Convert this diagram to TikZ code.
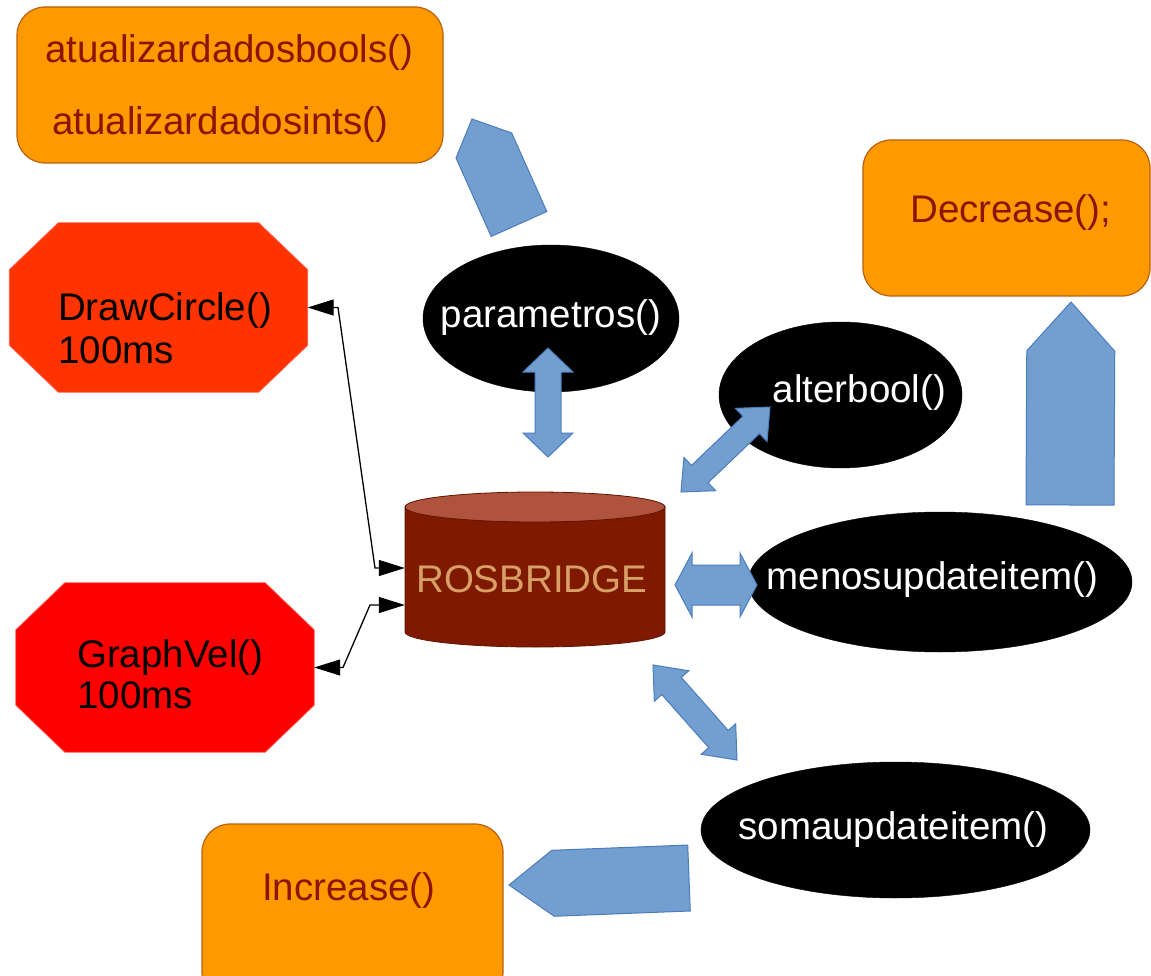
\documentclass[tikz,border=0pt]{standalone}
\usepackage{fontspec}
\setmainfont{Liberation Sans}
\usetikzlibrary{shapes.geometric,calc,arrows.meta}
\definecolor{orfill}{HTML}{FF9900}
\definecolor{ordraw}{HTML}{B8600F}
\definecolor{ortext}{HTML}{8B1500}
\definecolor{dcfill}{HTML}{FF3300}
\definecolor{gvfill}{HTML}{FF0000}
\definecolor{octdraw}{HTML}{FF5A4A}
\definecolor{bafill}{HTML}{729FCF}
\definecolor{badraw}{HTML}{4A7CBE}
\definecolor{rosbody}{HTML}{7F1A00}
\definecolor{rostop}{HTML}{B0533C}
\definecolor{rosedge}{HTML}{5E1200}
\definecolor{rostext}{HTML}{D9A066}
\newcommand{\blkdbl}[5]{%
 \draw[barrow] (#1) -- ($($(#1)!#3!(#2)$)!#4!90:(#2)$) -- ($($(#1)!#3!(#2)$)!#5!90:(#2)$)
  -- ($($(#2)!#3!(#1)$)!#5!-90:(#1)$) -- ($($(#2)!#3!(#1)$)!#4!-90:(#1)$) -- (#2)
  -- ($($(#2)!#3!(#1)$)!#4!90:(#1)$) -- ($($(#2)!#3!(#1)$)!#5!90:(#1)$)
  -- ($($(#1)!#3!(#2)$)!#5!-90:(#2)$) -- ($($(#1)!#3!(#2)$)!#4!-90:(#2)$) -- cycle;}
\newcommand{\blkpent}[4]{%
 \draw[barrow] (#1) -- ($($(#1)!#3!(#2)$)!#4!90:(#2)$) -- ($(#2)!#4!-90:(#1)$)
  -- ($(#2)!#4!90:(#1)$) -- ($($(#1)!#3!(#2)$)!#4!-90:(#2)$) -- cycle;}
% octagon drawn on a named box node: #1 node, #2 fill colour
\newcommand{\octagonon}[2]{%
 \draw[octline, fill=#2] ($(#1.north west)+(49,0)$) -- ($(#1.north east)+(-49,0)$)
  -- ($(#1.north east)+(0,47)$) -- ($(#1.south east)+(0,-47)$)
  -- ($(#1.south east)+(-49,0)$) -- ($(#1.south west)+(49,0)$)
  -- ($(#1.south west)+(0,-47)$) -- ($(#1.north west)+(0,47)$) -- cycle;}
\tikzset{
 big/.style={font=\fontsize{38.5}{46}\selectfont},
 obox/.style={draw=ordraw, line width=1.2pt, fill=orfill, rounded corners=28pt},
 otext/.style={big, text=ortext, inner sep=0, anchor=base west},
 octbox/.style={inner sep=0, minimum width=298pt, minimum height=169pt},
 octline/.style={draw=octdraw, line width=0.8pt},
 octtext/.style={big, text=black, inner sep=0, anchor=base west},
 ell/.style={ellipse, fill=black, draw=black, inner sep=0},
 etext/.style={big, text=white, inner sep=0},
 barrow/.style={fill=bafill, draw=badraw, line width=1pt, line join=miter},
 blk/.style={draw=black, line width=1.3pt, {Triangle[length=26pt,width=16pt]}-{Triangle[length=26pt,width=16pt]}}
}
\begin{document}
\begin{tikzpicture}[x=1pt,y=-1pt]
\useasboundingbox (0,0) rectangle (1151,976);
\fill[white] (0,0) rectangle (1151,976);
% orange boxes
\draw[obox] (17,7) rectangle (443,163);
\node[otext] (t1) at (45,63) {atualizardadosbools()};
\node[otext] (t2) at (52,135) {atualizardadosints()};
\draw[obox] (863,140) rectangle (1150,296);
\node[otext] (dec) at (910,223) {Decrease();};
\draw[obox] (202,824) rectangle (503,1000);
\node[otext] (inc) at (262,900) {Increase()};
% octagons
\node[octbox] (dc) at (158.5,307.5) {};
\octagonon{dc}{dcfill}
\node[octtext] at (58,320) {DrawCircle()};
\node[octtext] at (58,363) {100ms};
\node[octbox] (gv) at (165,667.5) {};
\octagonon{gv}{gvfill}
\node[octtext] at (77,667) {GraphVel()};
\node[octtext] at (77,708) {100ms};
% ellipses
\node[ell, minimum width=256pt, minimum height=147pt] (par) at (551,318.5) {};
\node[etext] (part) at (551,318) {parametros()};
\node[ell, minimum width=243pt, minimum height=146pt] (alt) at (840.5,395) {};
\node[etext] (altt) at (859.5,393) {alterbool()};
\node[ell, minimum width=384pt, minimum height=140pt] (men) at (940,582) {};
\node[etext] (ment) at (932.5,580) {menosupdateitem()};
\node[ell, minimum width=389pt, minimum height=136pt] (som) at (895.5,830) {};
\node[etext] (somt) at (893.5,830) {somaupdateitem()};
% cylinder
\filldraw[fill=rosbody, draw=rosedge, line width=0.8pt] (405,507) -- (405,632)
  arc[start angle=180, end angle=360, x radius=130pt, y radius=15pt] -- (665,507) -- cycle;
\filldraw[fill=rostop, draw=rosedge, line width=0.8pt] (535,507) ellipse [x radius=130pt, y radius=15pt];
\node[minimum width=260pt, minimum height=155pt, inner sep=0] (ros) at (535,570) {};
\node[big, text=rostext, inner sep=0, anchor=base west] (rost) at (416,592) {ROSBRIDGE};
% black connectors
\coordinate (k1) at (338,307.5);
\coordinate (k2) at (375,568);
\draw[blk] (dc.east) -- (k1) -- (k2) -- (k2 -| ros.west);
\coordinate (k3) at (343,667.5);
\coordinate (k4) at (370,605);
\draw[blk] (gv.east) -- (k3) -- (k4) -- (k4 -| ros.west);
% blue block arrows
\coordinate (p1t) at (472,119);
\coordinate (p1b) at (519,224);
\blkpent{p1t}{p1b}{29pt}{30.5pt}
\coordinate (p2t) at (1071,302);
\coordinate (p2b) at (1070,505);
\blkpent{p2t}{p2b}{49pt}{44pt}
\coordinate (p3t) at (509,885);
\coordinate (p3b) at (689,878);
\blkpent{p3t}{p3b}{44pt}{33pt}
\coordinate (d1a) at (548,348);
\coordinate (d1b) at (548,457);
\blkdbl{d1a}{d1b}{24pt}{25pt}{13pt}
\coordinate (d2a) at (770,407);
\coordinate (d2b) at (681,492);
\blkdbl{d2a}{d2b}{26pt}{23pt}{12pt}
\coordinate (d3a) at (675,585);
\coordinate (d3b) at (757,585);
\blkdbl{d3a}{d3b}{17pt}{32pt}{20pt}
\coordinate (d4a) at (653,665);
\coordinate (d4b) at (737,760);
\blkdbl{d4a}{d4b}{28pt}{23pt}{13pt}
\end{tikzpicture}
\end{document}
